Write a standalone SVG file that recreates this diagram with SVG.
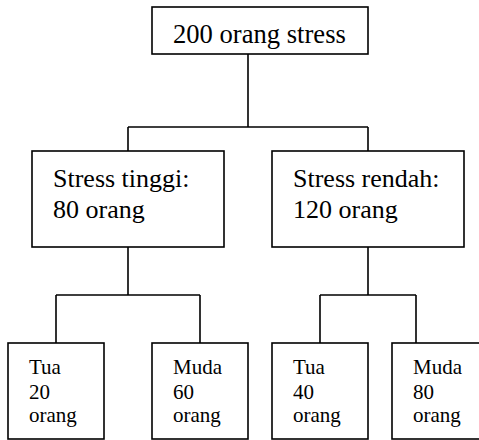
<svg xmlns="http://www.w3.org/2000/svg" width="479" height="440" viewBox="0 0 479 440">
  <style>
    .box { fill: #ffffff; stroke: #000000; stroke-width: 1.6; }
    .wire { fill: none; stroke: #000000; stroke-width: 1.6; }
    .big { font-family: "Liberation Serif", "Times New Roman", serif; font-size: 26px; fill: #000000; }
    .title { font-size: 26.6px; }
    .small { font-family: "Liberation Serif", "Times New Roman", serif; font-size: 21px; fill: #000000; }
  </style>
  <rect width="479" height="440" fill="#ffffff"/>

  <g id="connectors">
    <path class="wire" d="M248 54 V127 M128 127 H368 M128 127 V151 M368 127 V151"/>
    <path class="wire" d="M128 247 V295 M56 295 H200 M56 295 V343 M200 295 V343"/>
    <path class="wire" d="M368 247 V295 M320 295 H416 M320 295 V343 M416 295 V343"/>
  </g>

  <g id="root">
    <rect class="box" x="152" y="7" width="216" height="47"/>
    <text class="big title" x="173" y="43">200 orang stress</text>
  </g>

  <g id="stress-tinggi">
    <rect class="box" x="32" y="151" width="192" height="96"/>
    <text class="big" x="53" y="187">Stress tinggi:</text>
    <text class="big" x="53" y="218">80 orang</text>
  </g>

  <g id="stress-rendah">
    <rect class="box" x="272" y="151" width="192" height="96"/>
    <text class="big" x="293" y="187">Stress rendah:</text>
    <text class="big" x="293" y="218">120 orang</text>
  </g>

  <g id="tinggi-tua">
    <rect class="box" x="8" y="343" width="96" height="96"/>
    <text class="small" x="29" y="374">Tua</text>
    <text class="small" x="29" y="399">20</text>
    <text class="small" x="29" y="422">orang</text>
  </g>

  <g id="tinggi-muda">
    <rect class="box" x="152" y="343" width="96" height="96"/>
    <text class="small" x="173" y="374">Muda</text>
    <text class="small" x="173" y="399">60</text>
    <text class="small" x="173" y="422">orang</text>
  </g>

  <g id="rendah-tua">
    <rect class="box" x="272" y="343" width="96" height="96"/>
    <text class="small" x="293" y="374">Tua</text>
    <text class="small" x="293" y="399">40</text>
    <text class="small" x="293" y="422">orang</text>
  </g>

  <g id="rendah-muda">
    <rect class="box" x="392" y="343" width="96" height="96"/>
    <text class="small" x="413" y="374">Muda</text>
    <text class="small" x="413" y="399">80</text>
    <text class="small" x="413" y="422">orang</text>
  </g>
</svg>
